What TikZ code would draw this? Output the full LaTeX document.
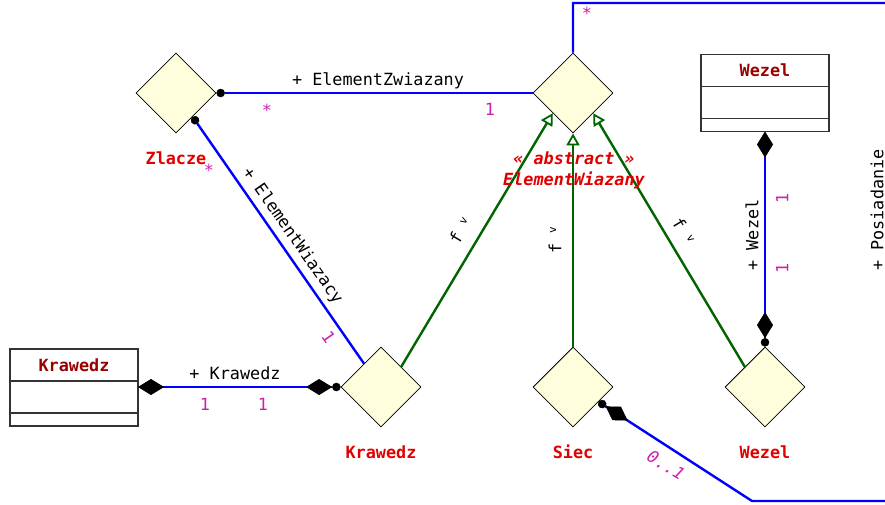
\documentclass[tikz,border=0pt]{standalone}
\usepackage{fontspec}
\setmainfont{DejaVu Sans Mono}
\usetikzlibrary{arrows.meta, positioning, shapes.geometric}
\definecolor{umlBlue}{HTML}{0000FF}
\definecolor{umlGreen}{HTML}{006400}
\definecolor{umlFill}{HTML}{FFFFDD}
\definecolor{umlRed}{HTML}{E00000}
\definecolor{umlDarkRed}{HTML}{990000}
\definecolor{umlMult}{HTML}{CC22AA}
\definecolor{umlBorder}{HTML}{333333}
\newcommand\umlsize{\fontsize{16.8}{21}\selectfont}
\newcommand\fchev{f \raisebox{0.3em}{\fontsize{11}{11}\selectfont v}}
\tikzset{
  compTip/.tip={Diamond[black, length=26pt, width=16pt, line width=0.5pt]},
  dotTip/.tip={Circle[black, length=8.5pt, line width=0.5pt]},
  genTip/.tip={Triangle[open, fill=white, length=12pt, width=13pt, line width=1.8pt]},
  assocDia/.style={diamond, aspect=1, draw=black, fill=umlFill, minimum size=80pt,
                   inner sep=0pt, line width=0.8pt},
  classHead/.style={rectangle, draw=umlBorder, line width=1.1pt, minimum width=128pt,
                    minimum height=32pt, inner sep=0pt, outer sep=0pt,
                    text=umlDarkRed, font=\umlsize\bfseries},
  classPart/.style={rectangle, draw=umlBorder, line width=1.1pt, minimum width=128pt,
                    inner sep=0pt, outer sep=0pt},
  lbl/.style={inner sep=1pt, text height=12pt, text depth=3.5pt},
  diaName/.style={lbl, text=umlRed, font=\umlsize\bfseries},
  absName/.style={inner sep=1pt, align=center, text=umlRed, font=\umlsize\bfseries\itshape},
  role/.style={lbl, text=black},
  mult/.style={lbl, text=umlMult},
  assoc/.style={umlBlue, line width=2.4pt},
  gen/.style={umlGreen, line width=2.4pt, -genTip},
}
\begin{document}
\begin{tikzpicture}[x=1pt, y=-1pt, font=\umlsize, node distance=18pt]
  \useasboundingbox (0,0) rectangle (885,504);
  \clip (0,0) rectangle (885,504);

  \node[assocDia] (zlD) at (176,93) {};
  \node[assocDia] (ewD) at (573,93) {};
  \node[assocDia] (krawD) at (381,387) {};
  \node[assocDia] (siecD) at (573,387) {};
  \node[assocDia] (wezD) at (765,387) {};

  \node[classHead] (krawHead) at (74,365) {Krawedz};
  \node[classPart, minimum height=32pt, below=0pt of krawHead] (krawAttr) {};
  \node[classPart, minimum height=13pt, below=0pt of krawAttr] (krawOps) {};
  \node[classHead] (wezHead) at (765,70.5) {Wezel};
  \node[classPart, minimum height=32pt, below=0pt of wezHead] (wezAttr) {};
  \node[classPart, minimum height=13pt, below=0pt of wezAttr] (wezOps) {};

  \coordinate (posTop) at (905,3);
  \coordinate (posBot) at (905,501);
  \coordinate (posTurn) at (752,501);

  \draw[assoc, dotTip-] (zlD.east) -- (ewD.west);
  \draw[assoc, dotTip-] (zlD.-55) -- (krawD.126);
  \draw[assoc, compTip-{compTip[] dotTip[]}] (krawD.west -| krawHead.east) -- (krawD.west);
  \draw[assoc, compTip-{compTip[] dotTip[]}] (wezOps.south) -- (wezD.north);
  \draw[assoc, -{compTip[] dotTip[]}] (ewD.north) |- (posTop) -- (posBot) -- (posTurn) -- (siecD.-30);
  \draw[gen] (krawD.north east) -- (ewD.south west);
  \draw[gen] (siecD.north) -- (ewD.south);
  \draw[gen] (wezD.north west) -- (ewD.south east);

  \node[diaName, below=of zlD] (zlName) {Zlacze};
  \node[diaName, below=of krawD] (krawName) {Krawedz};
  \node[diaName, below=of siecD] (siecName) {Siec};
  \node[diaName, below=of wezD] (wezName) {Wezel};
  \node[absName] (ewName) at (574,170) {« abstract »\\ElementWiazany};

  \node[role] (rZwiazany) at (378,81.5) {+ ElementZwiazany};
  \node[mult] (mZwA) at (267,112) {*};
  \node[mult] (mZwB) at (490,111) {1};
  \node[role, rotate=-55] (rWiazacy) at (292,236) {+ ElementWiazacy};
  \node[mult] (mWiA) at (209,172) {*};
  \node[mult, rotate=-55] (mWiB) at (327,338) {1};
  \node[role] (rKrawedz) at (235,375) {+ Krawedz};
  \node[mult] (mKrA) at (205,406) {1};
  \node[mult] (mKrB) at (263,406) {1};
  \node[role, rotate=59] (fLeft) at (462,232) {\fchev};
  \node[role, rotate=90] (fMid) at (557,240) {\fchev};
  \node[role, rotate=-59] (fRight) at (682,232) {\fchev};
  \node[role, rotate=90] (rWezel) at (754,235) {+ Wezel};
  \node[mult, rotate=90] (mWeA) at (784,198) {1};
  \node[mult, rotate=90] (mWeB) at (784,268) {1};
  \node[mult] (mPosA) at (587,15) {*};
  \node[role, rotate=90] (rPosiadanie) at (879,210) {+ Posiadanie};
  \node[mult, rotate=-32, font=\umlsize\itshape] (mPosB) at (665,467) {0..1};
\end{tikzpicture}
\end{document}
